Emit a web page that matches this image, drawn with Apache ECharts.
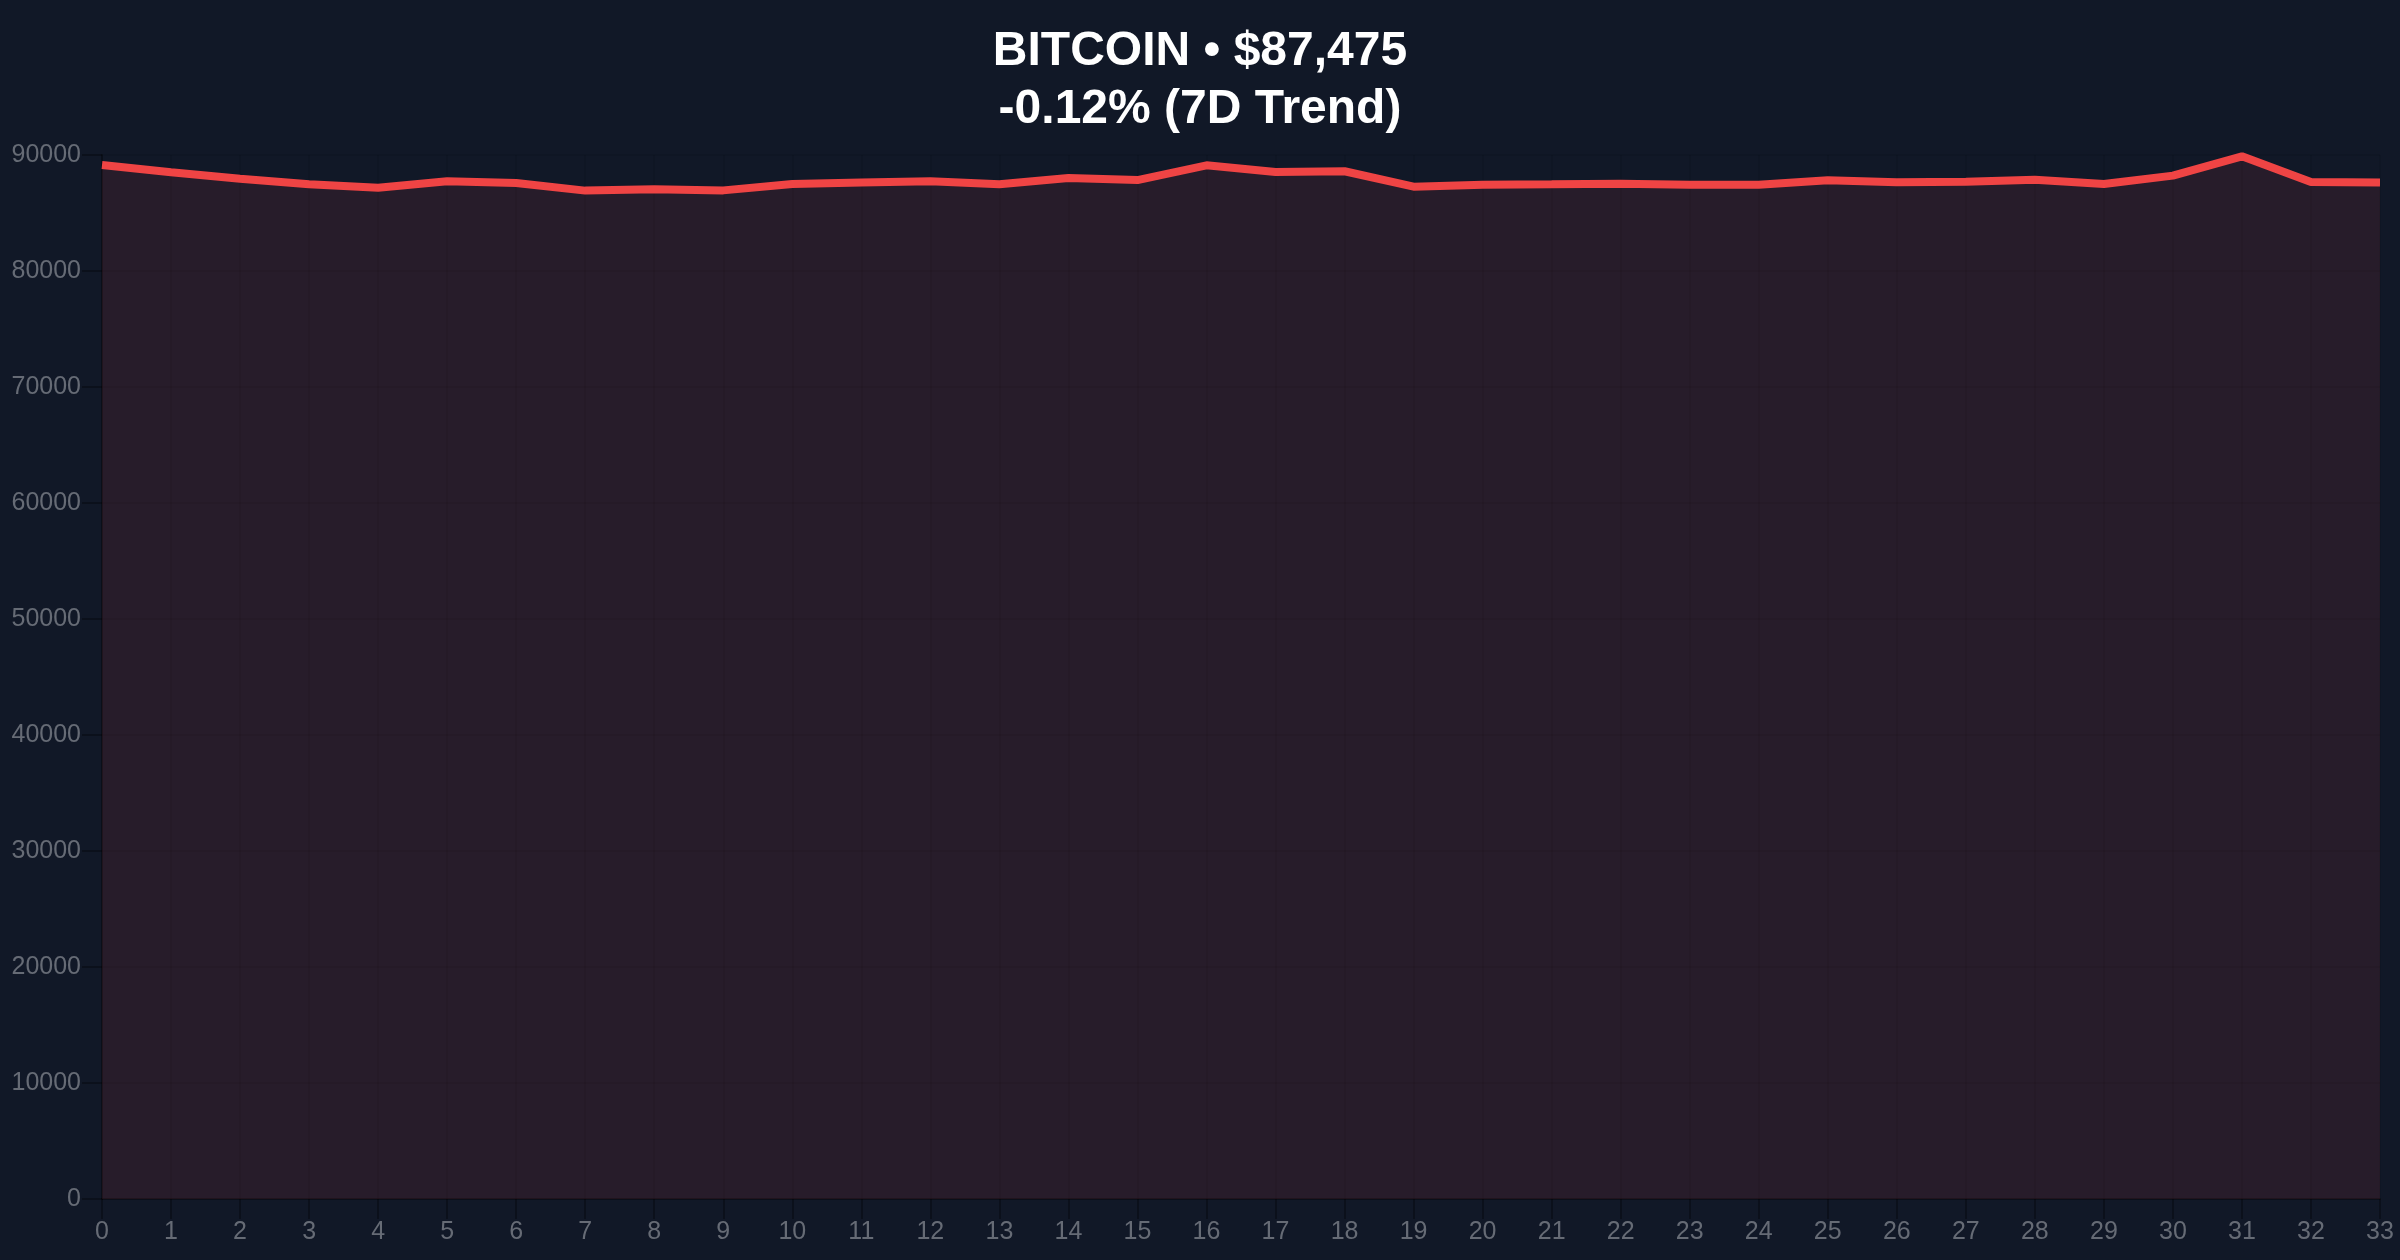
<!DOCTYPE html>
<html>
<head>
<meta charset="utf-8">
<script src="https://cdn.jsdelivr.net/npm/echarts@6/dist/echarts.min.js"></script>
<style>
html,body{margin:0;padding:0;background:#111827;}
#chart{width:2400px;height:1260px;}
</style>
</head>
<body>
<div id="chart"></div>
<script>
const titleLine1 = 'BITCOIN • $87,475';
const titleLine2 = '-0.12% (7D Trend)';
const categories = ['0','1','2','3','4','5','6','7','8','9','10','11','12','13','14','15','16','17','18','19','20','21','22','23','24','25','26','27','28','29','30','31','32','33'];
const prices = [89140, 88510, 87960, 87480, 87180, 87730, 87590, 86930, 87050, 86950,
                87500, 87620, 87730, 87480, 88020, 87840, 89110, 88540, 88600, 87270,
                87440, 87470, 87530, 87440, 87440, 87820, 87650, 87700, 87870, 87500,
                88220, 89890, 87670, 87620];
const yTicks = { min: 0, max: 90000, interval: 10000 };

const chart = echarts.init(document.getElementById('chart'));
chart.setOption({
  backgroundColor: '#111827',
  animation: false,
  title: {
    text: titleLine1 + '\n' + titleLine2,
    left: 'center',
    top: 18,
    textStyle: {
      color: '#ffffff',
      fontFamily: 'Liberation Sans',
      fontWeight: 'bold',
      fontSize: 48,
      lineHeight: 58
    }
  },
  grid: { left: 102, right: 20, top: 155, bottom: 61, containLabel: false },
  xAxis: {
    type: 'category',
    data: categories,
    boundaryGap: false,
    axisLine: { show: true, lineStyle: { color: 'rgba(0,0,0,0.3)', width: 2 } },
    axisTick: { show: true, length: 20, lineStyle: { color: 'rgba(0,0,0,0.3)', width: 2 } },
    axisLabel: { color: '#666b75', fontSize: 25, fontFamily: 'Liberation Sans', margin: 21 },
    splitLine: { show: true, lineStyle: { color: 'rgba(0,0,0,0.07)', width: 2 } }
  },
  yAxis: {
    type: 'value',
    min: yTicks.min,
    max: yTicks.max,
    interval: yTicks.interval,
    axisLine: { show: true, lineStyle: { color: 'rgba(0,0,0,0.3)', width: 2 } },
    axisTick: { show: true, length: 20, lineStyle: { color: 'rgba(0,0,0,0.3)', width: 2 } },
    axisLabel: { color: '#666b75', fontSize: 25, fontFamily: 'Liberation Sans', margin: 21,
                 formatter: function (v) { return String(v); } },
    splitLine: { show: true, lineStyle: { color: 'rgba(0,0,0,0.07)', width: 2 } }
  },
  series: [{
    type: 'line',
    data: prices,
    showSymbol: false,
    symbol: 'none',
    lineStyle: { color: '#ef4444', width: 8 },
    itemStyle: { color: '#ef4444' },
    areaStyle: { color: '#ef4444', opacity: 0.1 }
  }]
});
</script>
</body>
</html>
